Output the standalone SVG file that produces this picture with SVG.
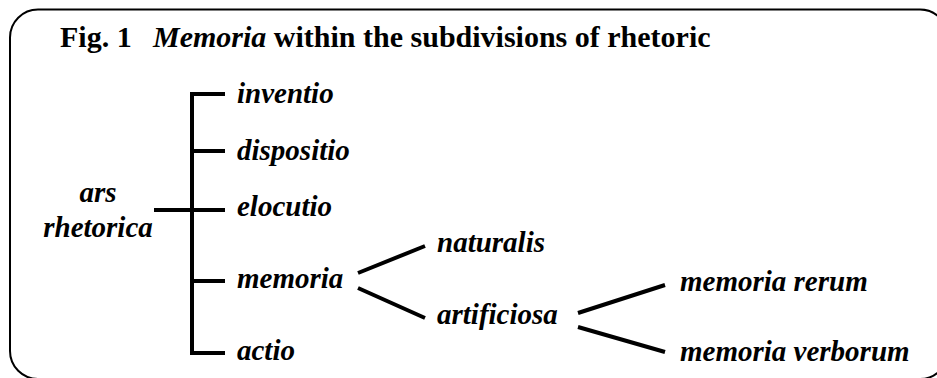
<svg xmlns="http://www.w3.org/2000/svg" width="937" height="378" viewBox="0 0 937 378">
<style>
.lbl{font-family:'Liberation Serif','DejaVu Serif',serif;font-size:29px;font-weight:700;font-style:italic;fill:#000}
.title{font-family:'Liberation Serif','DejaVu Serif',serif;font-size:30px;font-weight:700;fill:#000}
.ln{stroke:#000;stroke-width:4;fill:none;stroke-linejoin:miter;stroke-linecap:butt}
</style>
<rect x="10" y="9.5" width="938" height="369.5" rx="28" ry="28" fill="#fff" stroke="#000" stroke-width="2"/>
<text class="title" x="60" y="47">Fig. 1<tspan x="153" font-style="italic">Memoria</tspan> within the subdivisions of rhetoric</text>
<g id="connectors">
<path class="ln" d="M225,94 H192 V353 H225"/>
<path class="ln" d="M192,151 H225 M192,210 H225 M192,281 H225 M154,210 H192"/>
<path class="ln" d="M358,273 L425,246 M358,288 L425,318"/>
<path class="ln" d="M578,313 L665,285 M578,327 L665,352"/>
</g>
<g id="ars-rhetorica"><text class="lbl" x="98" y="202" text-anchor="middle">ars</text><text class="lbl" x="98" y="237" text-anchor="middle">rhetorica</text></g>
<g id="inventio"><text class="lbl" x="237" y="103">inventio</text></g>
<g id="dispositio"><text class="lbl" x="237" y="160">dispositio</text></g>
<g id="elocutio"><text class="lbl" x="237" y="216">elocutio</text></g>
<g id="memoria"><text class="lbl" x="237" y="288">memoria</text></g>
<g id="actio"><text class="lbl" x="237" y="360">actio</text></g>
<g id="naturalis"><text class="lbl" x="437" y="252">naturalis</text></g>
<g id="artificiosa"><text class="lbl" x="437" y="324">artificiosa</text></g>
<g id="memoria-rerum"><text class="lbl" x="680" y="291">memoria rerum</text></g>
<g id="memoria-verborum"><text class="lbl" x="680" y="361">memoria verborum</text></g>
</svg>
